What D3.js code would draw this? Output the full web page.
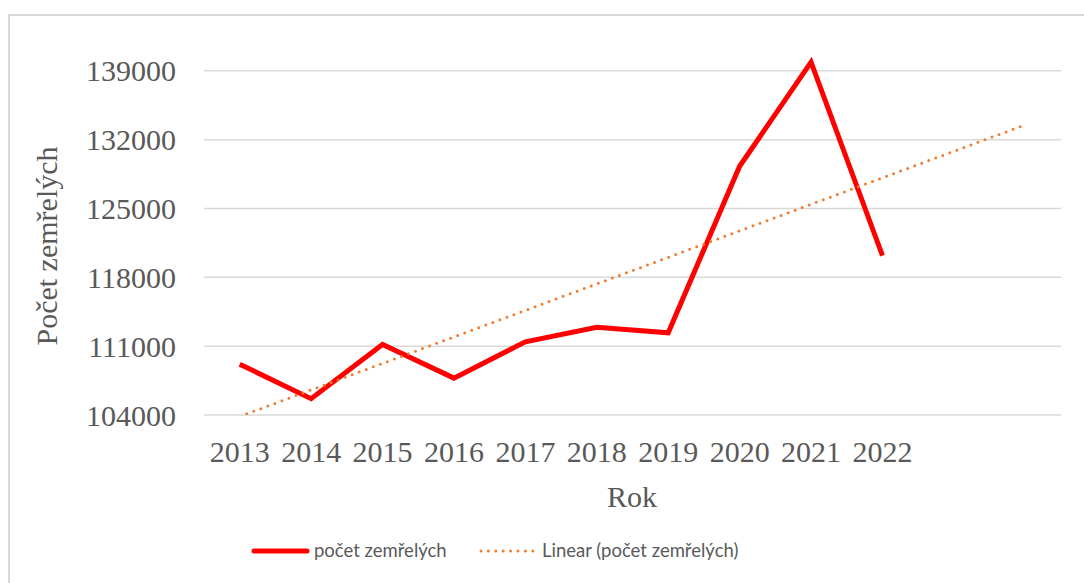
<!DOCTYPE html>
<html>
<head>
<meta charset="utf-8">
<script src="https://cdn.jsdelivr.net/npm/d3@7"></script>
<style>
  body { margin: 0; background: #fff; }
  svg { display: block; }
</style>
</head>
<body>
<div id="chart"></div>
<script>
// data
const years = ["2013", "2014", "2015", "2016", "2017", "2018", "2019", "2020", "2021", "2022"];
const deaths = [109160, 105665, 111173, 107750, 111443, 112920, 112362, 129289, 139891, 120219];
const yTicks = [104000, 111000, 118000, 125000, 132000, 139000];
const forwardPeriods = 2;

const width = 1084, height = 583;
const plot = { left: 204, right: 1061, top: 61, bottom: 415 };

const svg = d3.select("#chart").append("svg")
    .attr("width", width)
    .attr("height", height);

// chart border
svg.append("rect")
    .attr("x", 9).attr("y", 15)
    .attr("width", 1100).attr("height", 600)
    .attr("fill", "none")
    .attr("stroke", "#d9d9d9")
    .attr("stroke-width", 2);

// category axis is extended by the trendline forecast
const nCats = years.length + forwardPeriods;
const x = d3.scaleBand()
    .domain(d3.range(nCats))
    .range([plot.left, plot.right]);
const cx = i => x(i) + x.bandwidth() / 2;

const y = d3.scaleLinear()
    .domain([104000, 140000])
    .range([plot.bottom, plot.top]);

// gridlines
svg.append("g").selectAll("line")
    .data(yTicks)
    .join("line")
    .attr("x1", plot.left).attr("x2", plot.right)
    .attr("y1", d => y(d)).attr("y2", d => y(d))
    .attr("stroke", "#d9d9d9")
    .attr("stroke-width", 1.5);

// y tick labels
svg.append("g").selectAll("text")
    .data(yTicks)
    .join("text")
    .attr("x", 176)
    .attr("y", d => y(d))
    .attr("dy", "0.35em")
    .attr("text-anchor", "end")
    .attr("font-family", "Liberation Serif, Times New Roman, serif")
    .attr("font-size", 30)
    .attr("fill", "#595959")
    .text(d => d);

// x tick labels
svg.append("g").selectAll("text")
    .data(years)
    .join("text")
    .attr("x", (d, i) => cx(i))
    .attr("y", 462)
    .attr("text-anchor", "middle")
    .attr("font-family", "Liberation Serif, Times New Roman, serif")
    .attr("font-size", 30)
    .attr("fill", "#595959")
    .text(d => d);

// axis titles
svg.append("text")
    .attr("transform", "translate(57,246) rotate(-90)")
    .attr("text-anchor", "middle")
    .attr("font-family", "Liberation Serif, Times New Roman, serif")
    .attr("font-size", 30)
    .attr("fill", "#595959")
    .text("Počet zemřelých");

svg.append("text")
    .attr("x", 632).attr("y", 507)
    .attr("text-anchor", "middle")
    .attr("font-family", "Liberation Serif, Times New Roman, serif")
    .attr("font-size", 30)
    .attr("fill", "#595959")
    .text("Rok");

// linear trendline (least squares on x = 1..n)
const xs = deaths.map((d, i) => i + 1);
const mx = d3.mean(xs), my = d3.mean(deaths);
const slope = d3.sum(xs, (v, i) => (v - mx) * (deaths[i] - my)) / d3.sum(xs, v => (v - mx) ** 2);
const intercept = my - slope * mx;
const trend = d3.range(nCats).map(i => ({ i, v: intercept + slope * (i + 1) }));

svg.append("clipPath").attr("id", "plotclip")
    .append("rect")
    .attr("x", plot.left).attr("y", plot.top)
    .attr("width", plot.right - plot.left)
    .attr("height", plot.bottom - plot.top);

const line = d3.line()
    .x(d => cx(d.i))
    .y(d => y(d.v));

svg.append("path")
    .datum(deaths.map((v, i) => ({ i, v })))
    .attr("d", line)
    .attr("fill", "none")
    .attr("stroke", "#ff0000")
    .attr("stroke-width", 5)
    .attr("stroke-linejoin", "miter");

svg.append("path")
    .datum(trend)
    .attr("d", line)
    .attr("clip-path", "url(#plotclip)")
    .attr("fill", "none")
    .attr("stroke", "#ed7d31")
    .attr("stroke-width", 3)
    .attr("stroke-linecap", "round")
    .attr("stroke-dasharray", "0 7.5");

// legend
const lg = svg.append("g").attr("font-family", "Lato, Open Sans, sans-serif")
    .attr("font-size", 18.5).attr("fill", "#595959");
lg.append("line")
    .attr("x1", 254).attr("x2", 307).attr("y1", 551).attr("y2", 551)
    .attr("stroke", "#ff0000").attr("stroke-width", 5).attr("stroke-linecap", "round");
lg.append("text").attr("x", 314).attr("y", 551).attr("dy", "0.35em").text("počet zemřelých");
lg.append("line")
    .attr("x1", 481).attr("x2", 533).attr("y1", 551).attr("y2", 551)
    .attr("stroke", "#ed7d31").attr("stroke-width", 3).attr("stroke-linecap", "round")
    .attr("stroke-dasharray", "0 7.4");
lg.append("text").attr("x", 542).attr("y", 551).attr("dy", "0.35em").text("Linear (počet zemřelých)");
</script>
</body>
</html>
